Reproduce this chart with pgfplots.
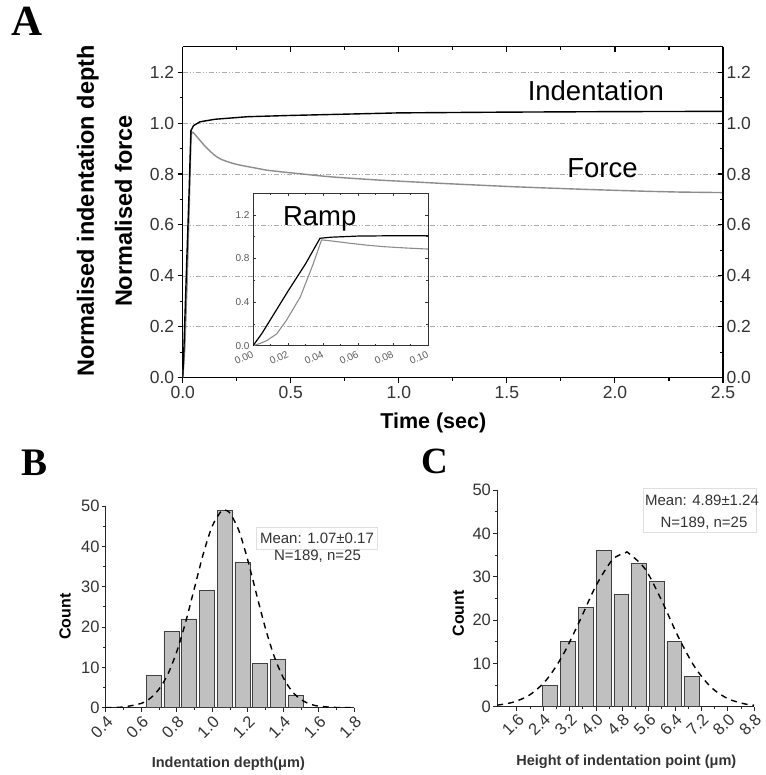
\documentclass[border=0pt]{standalone}
\usepackage{pgfplots}
\pgfplotsset{compat=1.18}
\usepackage{fontspec}
\setmainfont{Liberation Sans}
\newfontfamily\lserif{Liberation Serif}
\definecolor{forcegray}{HTML}{8C8C8C}
\definecolor{bargray}{HTML}{C0C0C0}
\definecolor{ticktext}{HTML}{333333}
\begin{document}
\begin{tikzpicture}
\path[use as bounding box] (0,0) rectangle (765pt,775pt);
\pgfplotsset{
  every axis/.append style={
    scale only axis,
    /pgf/number format/assume math mode=true,
    axis line style={line width=1.3pt, black},
    every tick/.style={line width=1.1pt, black},
    major tick length=5pt, minor tick length=3pt,
  },
}
% ---------------- Panel A (main) ----------------
\begin{axis}[at={(182.7pt,397.3pt)}, anchor=south west,
  width=540.3pt, height=331pt,
  xmin=0, xmax=2.5, ymin=0, ymax=1.3,
  axis x line*=bottom, axis y line*=left, tick align=outside,
  xtick={0,0.5,1.0,1.5,2.0,2.5}, minor x tick num=1,
  ytick={0,0.2,0.4,0.6,0.8,1.0,1.2}, minor y tick num=1,
  ymajorgrids,
  grid style={gray!65, line width=0.6pt, dash pattern=on 5pt off 2pt on 1pt off 2pt on 1pt off 2pt},
  tick label style={font=\fontsize{17.5}{19}\selectfont, text=ticktext},
  xticklabel style={/pgf/number format/.cd, fixed, fixed zerofill, precision=1},
  yticklabel style={/pgf/number format/.cd, fixed, fixed zerofill, precision=1},
]
\addplot[forcegray, line width=1.4pt] coordinates {
(0,0)(0.005,0.05)(0.01,0.12)(0.02,0.36)(0.03,0.66)(0.038,0.93)(0.042,0.965)
(0.05,0.962)(0.06,0.952)(0.08,0.932)(0.1,0.912)(0.12,0.895)(0.14,0.879)(0.16,0.866)
(0.18,0.857)(0.205,0.849)(0.234,0.841)(0.27,0.834)(0.32,0.826)
(0.389,0.815)(0.46,0.808)(0.543,0.801)(0.62,0.794)(0.697,0.788)(0.8,0.782)(0.928,0.775)
(1.067,0.769)(1.2,0.763)(1.376,0.756)(1.53,0.75)(1.684,0.745)(1.85,0.74)(1.993,0.736)
(2.15,0.732)(2.30,0.729)(2.5,0.727)};
\addplot[black, line width=1.4pt] coordinates {
(0,0)(0.005,0.1)(0.01,0.23)(0.02,0.49)(0.03,0.74)(0.038,0.97)(0.05,0.99)
(0.08,1.005)(0.15,1.015)(0.3,1.025)(0.5,1.03)(0.75,1.035)(1.0,1.04)(1.5,1.043)
(2.0,1.045)(2.5,1.046)};
\end{axis}
% ---------------- Panel A (right/top frame) ----------------
\begin{axis}[at={(182.7pt,397.3pt)}, anchor=south west,
  width=540.3pt, height=331pt,
  xmin=0, xmax=2.5, ymin=0, ymax=1.3,
  axis x line*=top, axis y line*=right, tick align=inside,
  xtick={0,0.5,1.0,1.5,2.0,2.5}, minor x tick num=1, xticklabels={},
  ytick={0,0.2,0.4,0.6,0.8,1.0,1.2}, minor y tick num=1,
  tick label style={font=\fontsize{17.5}{19}\selectfont, text=ticktext},
  yticklabel style={/pgf/number format/.cd, fixed, fixed zerofill, precision=1},
]
\addplot[draw=none] coordinates {(0,0)};
\end{axis}
% ---------------- Panel A inset ----------------
\begin{axis}[at={(253pt,429.3pt)}, anchor=south west,
  width=175pt, height=152.7pt,
  xmin=0, xmax=0.1, ymin=0, ymax=1.4,
  axis line style={line width=0.8pt, black!80},
  every tick/.style={line width=0.6pt, black!80},
  major tick length=3pt, minor tick length=2pt,
  xtick={0,0.02,0.04,0.06,0.08,0.1}, minor x tick num=1,
  ytick={0,0.4,0.8,1.2}, minor y tick num=1,
  tick label style={font=\fontsize{10}{11}\selectfont, text=black!65},
  xticklabel style={rotate=25, anchor=north east, /pgf/number format/.cd, fixed, fixed zerofill, precision=2},
  yticklabel style={/pgf/number format/.cd, fixed, fixed zerofill, precision=1},
]
\addplot[forcegray, line width=1.1pt] coordinates {
(0,0)(0.004,0.02)(0.0078,0.046)(0.0135,0.108)(0.019,0.23)(0.027,0.446)(0.0345,0.754)
(0.0392,0.97)(0.045,0.96)(0.0554,0.939)(0.065,0.922)(0.0745,0.908)(0.087,0.896)(0.1,0.886)};
\addplot[black, line width=1.2pt] coordinates {
(0,0)(0.005,0.11)(0.01,0.24)(0.02,0.5)(0.03,0.75)(0.0383,0.985)(0.045,0.995)
(0.06,1.005)(0.08,1.008)(0.1,1.008)};
\end{axis}
\node[font=\fontsize{27.5}{30}\selectfont] at (319.7pt,556pt) {Ramp};
\node[font=\fontsize{27.5}{30}\selectfont] at (595.8pt,684.8pt) {Indentation};
\node[font=\fontsize{27.5}{30}\selectfont] at (602.5pt,607pt) {Force};
\node[rotate=90, font=\fontsize{23.5}{26}\selectfont\bfseries] at (87.8pt,564pt) {Normalised indentation depth};
\node[rotate=90, font=\fontsize{23.5}{26}\selectfont\bfseries] at (123.5pt,564pt) {Normalised force};
\node[font=\fontsize{21.5}{24}\selectfont\bfseries] at (433.3pt,351.7pt) {Time (sec)};
% ---------------- Panel B ----------------
\begin{axis}[at={(105.7pt,67.3pt)}, anchor=south west,
  width=248.6pt, height=201.7pt,
  xmin=0.4, xmax=1.8, ymin=0, ymax=50,
  axis lines*=left, tick align=outside,
  axis line style={line width=1.0pt, black!85},
  every tick/.style={line width=0.8pt, black!85},
  major tick length=4pt, minor tick length=2.5pt,
  xtick={0.4,0.6,0.8,1.0,1.2,1.4,1.6,1.8}, minor x tick num=1,
  ytick={0,10,20,30,40,50}, minor y tick num=1,
  tick label style={font=\fontsize{16.5}{18}\selectfont, text=ticktext},
  xticklabel style={rotate=45, anchor=north east, inner sep=2pt, /pgf/number format/.cd, fixed, fixed zerofill, precision=1},
  yticklabel style={inner sep=2pt},
]
\addplot[ybar, bar width=0.085, fill=bargray, draw=black!75, line width=0.7pt] coordinates {
(0.67,8)(0.77,19)(0.87,22)(0.97,29)(1.07,49)(1.17,36)(1.27,11)(1.37,12)(1.47,3)};
\addplot[black, line width=1.4pt, dash pattern=on 6pt off 5pt, smooth] coordinates {
(0.4,0.02)(0.5,0.18)(0.6,1.07)(0.65,2.3)(0.7,4.6)(0.75,8.3)(0.8,13.9)(0.85,21.2)
(0.9,29.7)(0.95,38.2)(1.0,45.0)(1.05,48.7)(1.07,49.0)(1.1,48.2)(1.15,43.9)(1.2,36.6)
(1.25,28.0)(1.3,19.6)(1.35,12.6)(1.4,7.45)(1.45,4.03)(1.5,2.0)(1.55,0.91)(1.6,0.38)
(1.7,0.05)(1.8,0.0)};
\end{axis}
\fill[white] (256pt,226pt) rectangle (377pt,248pt);
\draw[gray!25, line width=0.5pt] (256pt,226pt) rectangle (377pt,248pt);
\node[font=\fontsize{15}{17}\selectfont, text=ticktext] at (317pt,237pt) {Mean: 1.07±0.17};
\node[font=\fontsize{15}{17}\selectfont, text=ticktext] at (317.5pt,219pt) {N=189, n=25};
\node[rotate=90, font=\fontsize{16}{18}\selectfont\bfseries] at (65pt,158.3pt) {Count};
\node[font=\fontsize{14.5}{16}\selectfont\bfseries, text=ticktext] at (228.3pt,11.7pt) {Indentation depth(μm)};
% ---------------- Panel C ----------------
\begin{axis}[at={(497.1pt,68.3pt)}, anchor=south west,
  width=257pt, height=216.7pt,
  xmin=1.0, xmax=8.8, ymin=0, ymax=50,
  axis lines*=left, tick align=outside,
  axis line style={line width=1.0pt, black!85},
  every tick/.style={line width=0.8pt, black!85},
  major tick length=4pt, minor tick length=2.5pt,
  xtick={1.6,2.4,3.2,4.0,4.8,5.6,6.4,7.2,8.0,8.8}, minor x tick num=1,
  ytick={0,10,20,30,40,50}, minor y tick num=1,
  tick label style={font=\fontsize{16.5}{18}\selectfont, text=ticktext},
  xticklabel style={rotate=45, anchor=north east, inner sep=1pt, /pgf/number format/.cd, fixed, fixed zerofill, precision=1},
  yticklabel style={inner sep=2pt},
]
\addplot[ybar, bar width=0.45, fill=bargray, draw=black!75, line width=0.7pt] coordinates {
(2.61,5)(3.15,15)(3.69,23)(4.23,36)(4.77,26)(5.31,33)(5.84,29)(6.38,15)(6.92,7)};
\addplot[black, line width=1.4pt, dash pattern=on 6pt off 5pt, smooth] coordinates {
(1.0,0.35)(1.5,1.07)(2.0,2.78)(2.5,6.22)(3.0,11.95)(3.5,19.7)(4.0,27.9)(4.5,33.9)
(4.89,35.5)(5.0,35.37)(5.5,31.7)(6.0,24.4)(6.5,16.1)(7.0,9.14)(7.5,4.45)(8.0,1.86)
(8.5,0.67)(8.8,0.34)};
\end{axis}
\fill[white] (643pt,243pt) rectangle (756pt,287pt);
\draw[gray!25, line width=0.5pt] (643pt,243pt) rectangle (756pt,287pt);
\node[font=\fontsize{15}{17}\selectfont, text=ticktext] at (702pt,275pt) {Mean: 4.89±1.24};
\node[font=\fontsize{15}{17}\selectfont, text=ticktext] at (704pt,252pt) {N=189, n=25};
\node[rotate=90, font=\fontsize{16}{18}\selectfont\bfseries] at (458.3pt,161.7pt) {Count};
\node[font=\fontsize{14.5}{16}\selectfont\bfseries, text=ticktext] at (626.3pt,13.3pt) {Height of indentation point (μm)};
% ---------------- Panel letters ----------------
\node[font=\fontsize{43}{45}\selectfont\lserif\bfseries] at (27.5pt,754pt) {A};
\node[font=\fontsize{39}{41}\selectfont\lserif\bfseries] at (35pt,312pt) {B};
\node[font=\fontsize{37}{39}\selectfont\lserif\bfseries] at (435pt,314pt) {C};
\end{tikzpicture}
\end{document}
